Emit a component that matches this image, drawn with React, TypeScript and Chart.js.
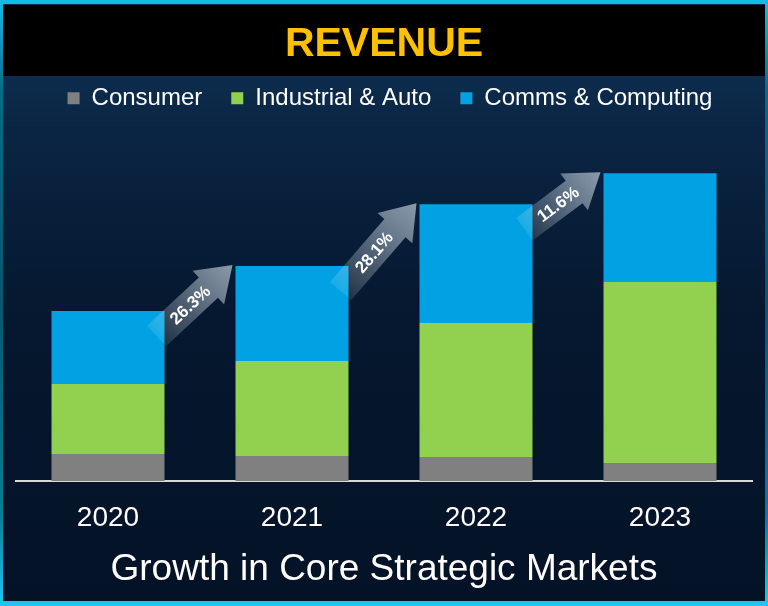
import React, { useEffect, useRef } from "react";
import { Chart, registerables } from "chart.js";

Chart.register(...registerables);

const categories = ["2020", "2021", "2022", "2023"];
const consumer = [27, 25, 24, 18];
const industrial = [70, 95, 134, 181];
const comms = [73, 95, 119, 109];
const growthLabels = ["26.3%", "28.1%", "11.6%"];

const FONT = "'Liberation Sans', Arial, Helvetica, sans-serif";

const backgroundPlugin = {
  id: "bgPlugin",
  afterLayout(chart: any) {
    const lg = chart.legend;
    if (lg) {
      lg.left += 6;
      lg.right += 6;
    }
  },
  beforeDraw(chart: any) {
    const { ctx, width, height } = chart;
    ctx.save();
    const bg = ctx.createLinearGradient(0, 0, 0, height);
    bg.addColorStop(0, "#14bde6");
    bg.addColorStop(0.15, "#0a6a86");
    bg.addColorStop(0.5, "#09566f");
    bg.addColorStop(0.85, "#0a7c9a");
    bg.addColorStop(1, "#1bc9f2");
    ctx.fillStyle = bg;
    ctx.fillRect(0, 0, width, height);
    const inner = ctx.createLinearGradient(0, 76, 0, height);
    inner.addColorStop(0, "#0d2c4d");
    inner.addColorStop(0.12, "#0a2442");
    inner.addColorStop(0.45, "#05182f");
    inner.addColorStop(1, "#041226");
    ctx.fillStyle = inner;
    ctx.fillRect(3, 4, width - 6, height - 9);
    ctx.fillStyle = "#000000";
    ctx.fillRect(3, 5, width - 6, 71);
    ctx.restore();
  },
};

const arrowPlugin = {
  id: "arrowPlugin",
  afterDatasetsDraw(chart: any) {
    const { ctx } = chart;
    const meta = chart.getDatasetMeta(2);
    const bars = meta.data;
    ctx.save();
    for (let i = 0; i < bars.length - 1; i++) {
      const a = bars[i];
      const b = bars[i + 1];
      const tailX = a.x + a.width / 2 - 8;
      const tailY = a.y + 25;
      const tipX = b.x - b.width / 2 - 3;
      const tipY = b.y - 1;
      const dx = tipX - tailX;
      const dy = tipY - tailY;
      const L = Math.sqrt(dx * dx + dy * dy);
      const ux = dx / L;
      const uy = dy / L;
      const nx = -uy;
      const ny = ux;
      const headLen = 33;
      const shaftHalf = 14;
      const headHalf = 23;
      const P = (s: number, t: number) => [tailX + ux * s + nx * t, tailY + uy * s + ny * t];
      const pts = [
        P(0, shaftHalf),
        P(L - headLen, shaftHalf),
        P(L - headLen, headHalf),
        P(L, 0),
        P(L - headLen, -headHalf),
        P(L - headLen, -shaftHalf),
        P(0, -shaftHalf),
      ];
      const g = ctx.createLinearGradient(tailX, tailY, tipX, tipY);
      g.addColorStop(0, "rgba(255,255,255,0.10)");
      g.addColorStop(0.35, "rgba(190,202,215,0.35)");
      g.addColorStop(1, "rgba(170,184,198,0.80)");
      ctx.beginPath();
      ctx.moveTo(pts[0][0], pts[0][1]);
      for (let k = 1; k < pts.length; k++) ctx.lineTo(pts[k][0], pts[k][1]);
      ctx.closePath();
      ctx.fillStyle = g;
      ctx.fill();

      const [cx, cy] = P(L * 0.44, 0);
      ctx.save();
      ctx.translate(cx, cy);
      ctx.rotate(Math.atan2(dy, dx));
      ctx.fillStyle = "#ffffff";
      ctx.font = `bold 17px ${FONT}`;
      ctx.textAlign = "center";
      ctx.textBaseline = "middle";
      ctx.fillText(growthLabels[i], 0, 1);
      ctx.restore();
    }
    ctx.restore();
  },
};

export default function App() {
  const ref = useRef<HTMLCanvasElement>(null);

  useEffect(() => {
    document.body.style.margin = "0";
    const canvas = ref.current;
    if (!canvas) return;
    const chart = new Chart(canvas, {
      type: "bar",
      data: {
        labels: categories,
        datasets: [
          { label: "Consumer", data: consumer, backgroundColor: "#808080", borderWidth: 0 },
          { label: "Industrial & Auto", data: industrial, backgroundColor: "#92d050", borderWidth: 0 },
          { label: "Comms & Computing", data: comms, backgroundColor: "#00a2e3", borderWidth: 0 },
        ],
      },
      options: {
        responsive: false,
        animation: false,
        devicePixelRatio: 1,
        layout: { padding: { left: 16, right: 16, top: 0, bottom: 5 } },
        datasets: { bar: { categoryPercentage: 1, barPercentage: 0.614 } },
        scales: {
          x: {
            stacked: true,
            grid: { display: false, drawTicks: false },
            border: { display: true, color: "#d9d9d9", width: 2 },
            ticks: { color: "#ffffff", font: { family: FONT, size: 28 }, padding: 20 },
          },
          y: {
            stacked: true,
            display: false,
            min: 0,
            max: 361,
          },
        },
        plugins: {
          tooltip: { enabled: false },
          title: {
            display: true,
            text: "REVENUE",
            color: "#ffc000",
            font: { family: FONT, size: 41, weight: "bold" },
            padding: { top: 20, bottom: -12 },
          },
          legend: {
            display: true,
            position: "top",
            labels: {
              color: "#ffffff",
              font: { family: FONT, size: 24 },
              boxWidth: 12,
              boxHeight: 12,
              padding: 29,
            },
          },
          subtitle: {
            display: true,
            position: "bottom",
            text: "Growth in Core Strategic Markets",
            color: "#ffffff",
            font: { family: FONT, size: 37, weight: "normal" },
            padding: { top: -7, bottom: 9 },
          },
        },
      },
      plugins: [backgroundPlugin, arrowPlugin],
    } as any);
    return () => chart.destroy();
  }, []);

  return (
    <div style={{ width: 768, height: 606 }}>
      <canvas ref={ref} width={768} height={606} style={{ display: "block" }} />
    </div>
  );
}
